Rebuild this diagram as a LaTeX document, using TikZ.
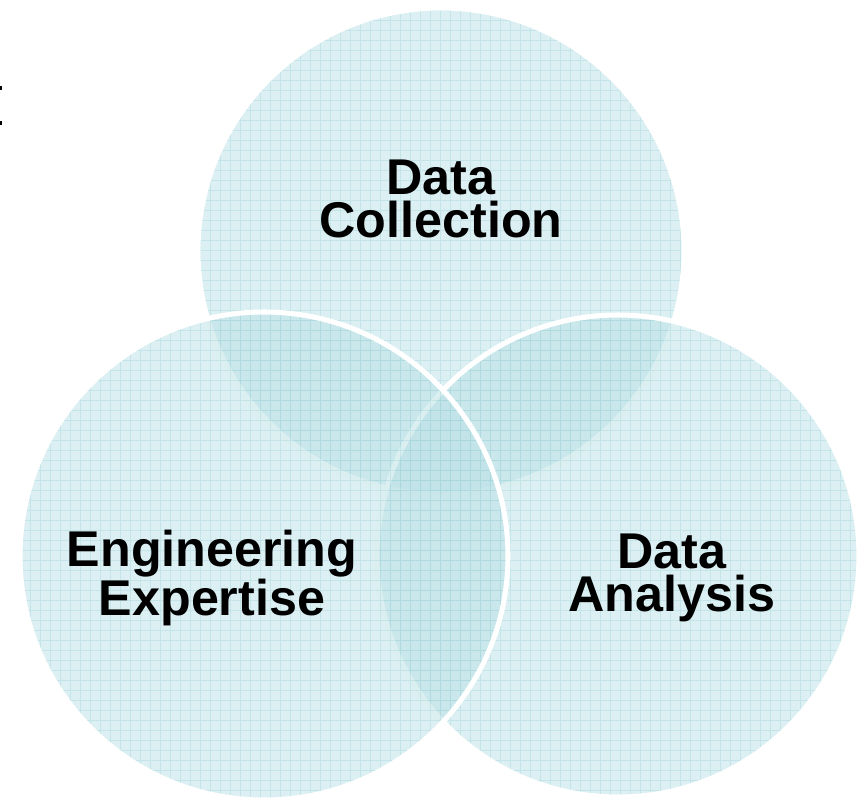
\documentclass[tikz,border=0pt]{standalone}
\usepackage{fontspec}
\setmainfont{Liberation Sans}
\usetikzlibrary{calc}

\definecolor{vennfill}{RGB}{185,224,229}
\definecolor{venngrid}{RGB}{150,208,214}

\begin{document}
\begin{tikzpicture}[x=0.03cm, y=-0.03cm,
	venn/.style={fill=vennfill, fill opacity=0.5},
	rim/.style={draw=white, line width=4.3pt},
	gridlines/.style={draw=venngrid, opacity=0.35, line width=0.7pt},
	lbl/.style={align=center, inner sep=0pt,
		font=\bfseries\fontsize{42.9}{37}\selectfont}]
	\useasboundingbox (0,0) rectangle (859,801);
	
	% circle centres
	\coordinate (topc) at (441,251);
	\coordinate (rightc) at (618,556);
	\coordinate (leftc) at (264,556);
	
	% top circle
	\fill[venn] (topc) circle (243);
	\begin{scope}
		\clip (topc) circle (243);
		\draw[gridlines, step=0.3cm] (150,0) grid (700,510);
	\end{scope}
	\draw[rim] (topc) circle (243);
	
	% right circle
	\fill[venn] (rightc) circle (241);
	\begin{scope}
		\clip (rightc) circle (241);
		\draw[gridlines, step=0.3cm] (360,300) grid (870,801);
	\end{scope}
	\draw[rim] (rightc) circle (241);
	
	% left circle
	\fill[venn] (leftc) circle (244);
	\begin{scope}
		\clip (leftc) circle (244);
		\draw[gridlines, step=0.3cm] (0,300) grid (520,801);
	\end{scope}
	\draw[rim] (leftc) circle (244);
	
	\node[lbl] (collect) at (441,199) {Data\\Collection};
	\node[lbl] (expert) at (212,578) {Engineering\\Expertise};
	\node[lbl] (analysis) at (672,578) {Data\\Analysis};
	
	% stray marks at the left edge
	\fill (0,86) rectangle (2,90);
	\fill (0,121) rectangle (2,125);
	
\end{tikzpicture}
\end{document}
